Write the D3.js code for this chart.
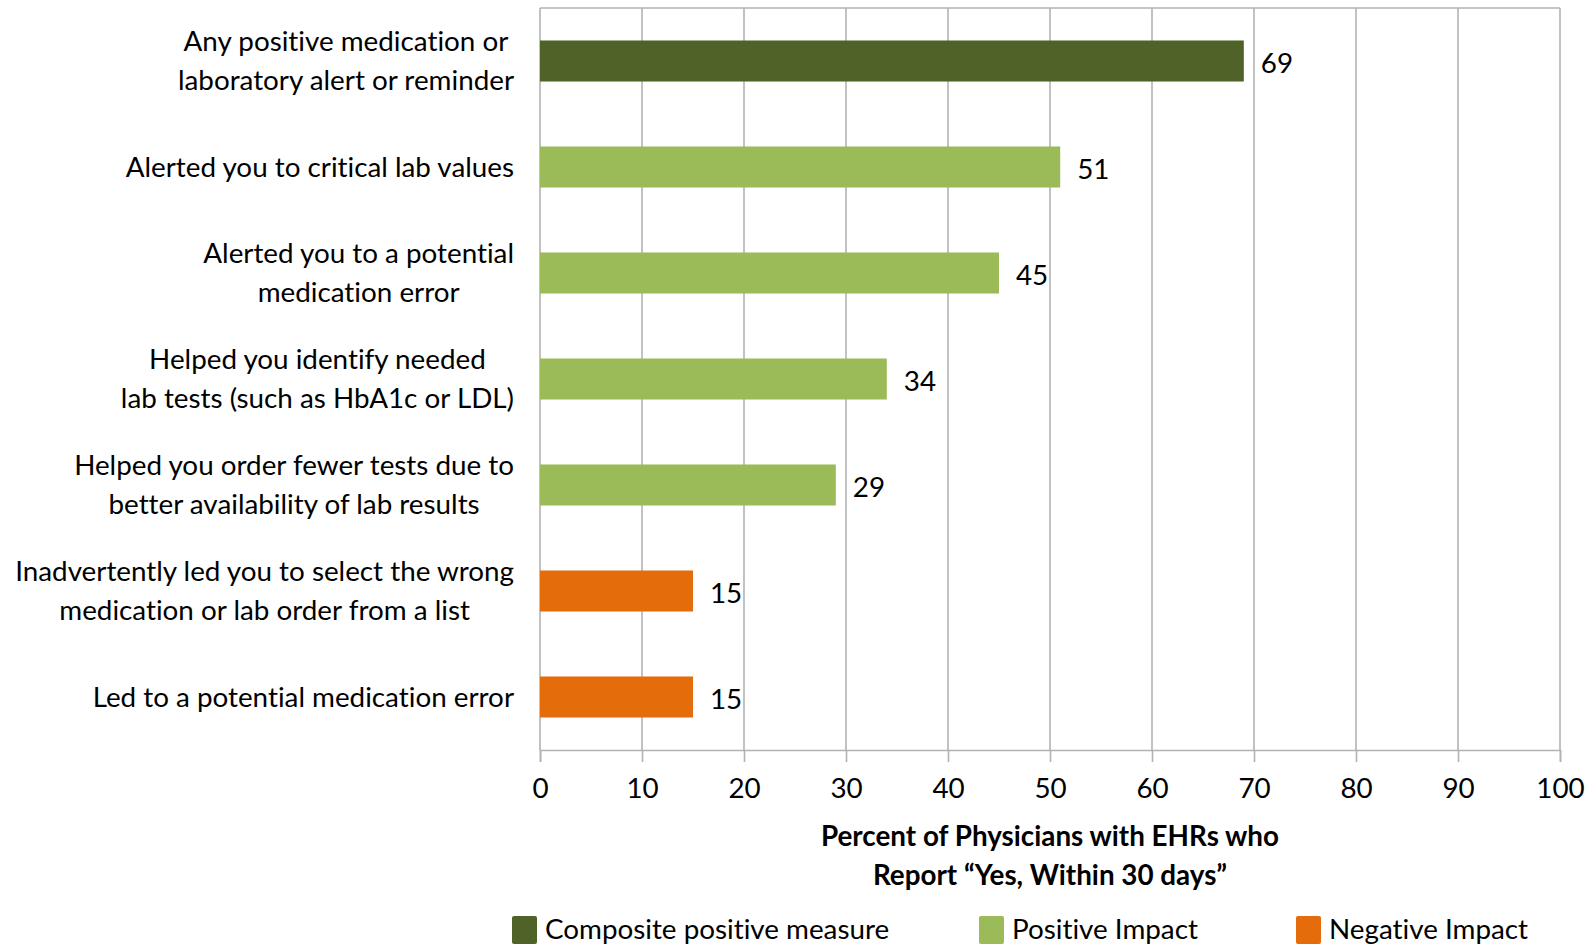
<!DOCTYPE html>
<html>
<head>
<meta charset="utf-8">
<script src="https://cdn.jsdelivr.net/npm/d3@7"></script>
<style>
  html, body { margin: 0; padding: 0; background: #fff; }
  svg { display: block; }
  text { font-family: Lato, "Open Sans", sans-serif; fill: #000; font-variant-ligatures: none; }
</style>
</head>
<body>
<svg id="chart" width="1595" height="947"></svg>
<script>
// Survey items (each entry is a list of label lines)
const categories = [
  ["Any positive medication or", "laboratory alert or reminder"],
  ["Alerted you to critical lab values"],
  ["Alerted you to a potential", "medication error"],
  ["Helped you identify needed", "lab tests (such as HbA1c or LDL)"],
  ["Helped you order fewer tests due to", "better availability of lab results"],
  ["Inadvertently led you to select the wrong", "medication or lab order from a list"],
  ["Led to a potential medication error"]
];
const values = [69, 51, 45, 34, 29, 15, 15];
const groups = ["Composite positive measure", "Positive Impact", "Positive Impact", "Positive Impact", "Positive Impact", "Negative Impact", "Negative Impact"];
const legendItems = ["Composite positive measure", "Positive Impact", "Negative Impact"];
const legendColors = ["#4F6228", "#9BBB59", "#E46C0A"];
const xTicks = [0, 10, 20, 30, 40, 50, 60, 70, 80, 90, 100];
const axisTitle = ["Percent of Physicians with EHRs who", "Report \u201cYes, Within 30 days\u201d"];

const svg = d3.select("#chart");
const plot = { left: 540, right: 1560, top: 8, bottom: 750 };
const fontSize = 27.8;
const lineGap = 39;

const x = d3.scaleLinear().domain([0, 100]).range([plot.left, plot.right]);
const y = d3.scaleBand()
  .domain(d3.range(categories.length))
  .range([plot.top, plot.bottom])
  .paddingInner(0.613)
  .paddingOuter(0.3065);
const color = d3.scaleOrdinal().domain(legendItems).range(legendColors);

// vertical gridlines
svg.append("g")
  .selectAll("line")
  .data(xTicks)
  .join("line")
  .attr("x1", d => x(d)).attr("x2", d => x(d))
  .attr("y1", plot.top).attr("y2", plot.bottom)
  .attr("stroke", "#b2b2b2").attr("stroke-width", 1.6);

// top border of plot area
svg.append("line")
  .attr("x1", plot.left).attr("x2", plot.right)
  .attr("y1", plot.top).attr("y2", plot.top)
  .attr("stroke", "#b2b2b2").attr("stroke-width", 1.6);

// x axis
const xAxis = svg.append("g")
  .attr("transform", `translate(0,${plot.bottom})`)
  .call(d3.axisBottom(x).tickValues(xTicks).tickSize(12).tickPadding(16));
xAxis.select(".domain").attr("stroke", "#b2b2b2").attr("stroke-width", 1.6);
xAxis.selectAll(".tick line").attr("stroke", "#b2b2b2").attr("stroke-width", 1.6);
xAxis.selectAll(".tick text")
  .attr("font-size", fontSize)
  .attr("font-family", "Lato, 'Open Sans', sans-serif")
  .attr("fill", "#000");

// bars
svg.append("g")
  .selectAll("rect")
  .data(values)
  .join("rect")
  .attr("x", x(0))
  .attr("y", (d, i) => y(i))
  .attr("width", d => x(d) - x(0))
  .attr("height", y.bandwidth())
  .attr("fill", (d, i) => color(groups[i]));

// value labels
svg.append("g")
  .selectAll("text")
  .data(values)
  .join("text")
  .attr("x", d => x(d) + 17)
  .attr("y", (d, i) => y(i) + y.bandwidth() / 2 + 2)
  .attr("dy", "0.35em")
  .attr("font-size", fontSize)
  .text(d => d);

// category labels: lines centred within a right-aligned block
const labelRight = 514;
const catG = svg.append("g");
categories.forEach((lines, i) => {
  const cy = y(i) + y.bandwidth() / 2;
  const g = catG.append("g");
  const texts = lines.map((ln, j) =>
    g.append("text")
      .attr("font-size", fontSize)
      .attr("text-anchor", "middle")
      .attr("y", cy + (j - (lines.length - 1) / 2) * lineGap)
      .attr("dy", "0.35em")
      .text(ln));
  const w = d3.max(texts, t => t.node().getComputedTextLength());
  texts.forEach(t => t.attr("x", labelRight - w / 2));
});

// axis title
svg.append("g")
  .selectAll("text")
  .data(axisTitle)
  .join("text")
  .attr("x", (plot.left + plot.right) / 2)
  .attr("y", (d, i) => 836 + i * lineGap)
  .attr("dy", "0.35em")
  .attr("text-anchor", "middle")
  .attr("font-size", fontSize)
  .attr("font-weight", "bold")
  .text(d => d);

// legend
const legendX = [512, 979, 1296];
const leg = svg.append("g")
  .selectAll("g")
  .data(legendItems)
  .join("g")
  .attr("transform", (d, i) => `translate(${legendX[i]},916)`);
leg.append("rect")
  .attr("width", 25).attr("height", 28).attr("rx", 2)
  .attr("fill", (d, i) => legendColors[i]);
leg.append("text")
  .attr("x", 33).attr("y", 13)
  .attr("dy", "0.35em")
  .attr("font-size", fontSize)
  .text(d => d);
</script>
</body>
</html>
